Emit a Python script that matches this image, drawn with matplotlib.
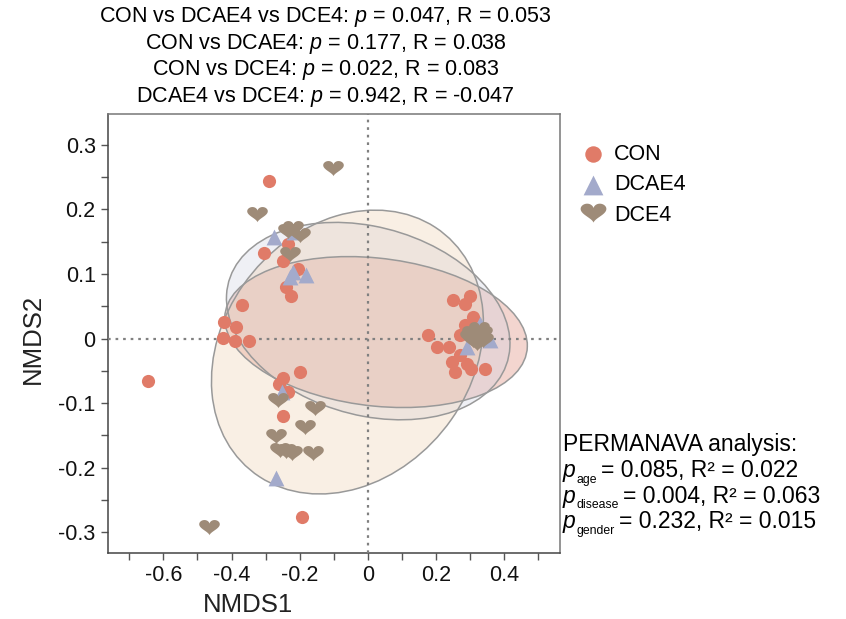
import numpy as np
import matplotlib
matplotlib.use("Agg")
import matplotlib.pyplot as plt
from matplotlib.patches import Ellipse
from matplotlib.path import Path
from matplotlib.ticker import MultipleLocator

plt.rcParams['font.family'] = ['Liberation Sans', 'DejaVu Sans']
plt.rcParams['mathtext.fontset'] = 'custom'
plt.rcParams['mathtext.rm'] = 'Liberation Sans'
plt.rcParams['mathtext.it'] = 'Liberation Sans:italic'

# NMDS scores
con_x = [-0.289, -0.304, -0.233, -0.248, -0.205, -0.240, -0.225, -0.368, -0.421, -0.386,
         -0.425, -0.389, -0.348, -0.249, -0.199, -0.646, -0.260, -0.233, -0.249, -0.194,
         0.249, 0.300, 0.285, 0.310, 0.285, 0.271, 0.176, 0.202, 0.239, 0.271,
         0.248, 0.290, 0.256, 0.302, 0.344, 0.300]
con_y = [0.244, 0.133, 0.146, 0.120, 0.107, 0.080, 0.066, 0.052, 0.025, 0.018,
         0.001, -0.004, -0.004, -0.061, -0.052, -0.066, -0.071, -0.083, -0.120, -0.277,
         0.059, 0.066, 0.053, 0.034, 0.021, 0.005, 0.005, -0.013, -0.013, -0.026,
         -0.036, -0.039, -0.052, -0.047, -0.048, 0.010]

dcae4_x = [-0.274, -0.218, -0.220, -0.182, -0.228, -0.252, -0.269, 0.329, 0.359, 0.290]
dcae4_y = [0.157, 0.165, 0.103, 0.098, 0.095, -0.083, -0.217, 0.023, -0.003, -0.013]

dce4_x = [-0.101, -0.324, -0.233, -0.199, -0.220, -0.228, -0.264, -0.155, -0.184, -0.270,
          -0.257, -0.223, -0.160, -0.240, -0.465, 0.305, 0.334, 0.320, 0.310, 0.339,
          0.300, 0.325]
dce4_y = [0.261, 0.190, 0.164, 0.157, 0.168, 0.128, -0.098, -0.111, -0.140, -0.155,
          -0.176, -0.181, -0.181, -0.178, -0.296, 0.005, 0.005, -0.010, -0.005, -0.005,
          0.000, 0.012]

# ellipse per group: centre, half range in x and y, correlation
groups = ['CON', 'DCAE4', 'DCE4']
ell_cx = [0.024, 0.001, -0.060]
ell_cy = [0.010, 0.027, -0.021]
ell_hx = [0.444, 0.416, 0.399]
ell_hy = [0.117, 0.153, 0.220]
ell_r = [-0.18, -0.23, 0.204]

point_cols = ['#E07B68', '#A3AACB', '#9E8B78']
fill_cols = ['#DA7662', '#CDD0E1', '#EECAA8']

title_lines = [
    r"CON vs DCAE4 vs DCE4: $p$ = 0.047, R = 0.053",
    r"CON vs DCAE4: $p$ = 0.177, R = 0.038",
    r"CON vs DCE4: $p$ = 0.022, R = 0.083",
    r"DCAE4 vs DCE4: $p$ = 0.942, R = -0.047",
]
perm_head = "PERMANAVA analysis:"
perm_terms = ['age', 'disease', 'gender']
perm_rest = ['= 0.085, R\u00b2 = 0.022', '= 0.004, R\u00b2 = 0.063', '= 0.232, R\u00b2 = 0.015']

# heart shaped marker
t = np.linspace(0, 2 * np.pi, 80)
hx = 16 * np.sin(t) ** 3
hy = 13 * np.cos(t) - 5 * np.cos(2 * t) - 2 * np.cos(3 * t) - np.cos(4 * t)
heart = Path(np.column_stack([hx, (hy + 6) * 0.82]))

W, H = 846, 619
fig = plt.figure(figsize=(W / 100, H / 100), dpi=100)
ax = fig.add_axes([0.1271, 0.1061, 0.5349, 0.7097])

for i in range(3):
    cov = np.array([[ell_hx[i] ** 2, ell_r[i] * ell_hx[i] * ell_hy[i]],
                    [ell_r[i] * ell_hx[i] * ell_hy[i], ell_hy[i] ** 2]])
    vals, vecs = np.linalg.eigh(cov)
    ang = np.degrees(np.arctan2(vecs[1, 1], vecs[0, 1]))
    e = Ellipse((ell_cx[i], ell_cy[i]), 2 * np.sqrt(vals[1]), 2 * np.sqrt(vals[0]),
                angle=ang, facecolor=fill_cols[i], alpha=0.3, edgecolor='none', zorder=1)
    ax.add_patch(e)
    e2 = Ellipse((ell_cx[i], ell_cy[i]), 2 * np.sqrt(vals[1]), 2 * np.sqrt(vals[0]),
                 angle=ang, facecolor='none', edgecolor='#999999', lw=1.1, zorder=2)
    ax.add_patch(e2)

ax.axhline(0, color='#808080', ls=(0, (1.2, 2.2)), lw=1.6, zorder=3)
ax.axvline(0, color='#808080', ls=(0, (1.2, 2.2)), lw=1.6, zorder=3)

h1 = ax.scatter(con_x, con_y, s=90, marker='o', color=point_cols[0], lw=0, zorder=4, label='CON')
h2 = ax.scatter(dcae4_x, dcae4_y, s=130, marker='^', color=point_cols[1], lw=0, zorder=5, label='DCAE4')
h3 = ax.scatter(dce4_x, dce4_y, s=220, marker=heart, color=point_cols[2], lw=0, zorder=6, label='DCE4')

ax.set_xlim(-0.764, 0.564)
ax.set_ylim(-0.333, 0.348)
ax.xaxis.set_major_locator(MultipleLocator(0.2))
ax.xaxis.set_minor_locator(MultipleLocator(0.1))
ax.yaxis.set_major_locator(MultipleLocator(0.1))
ax.yaxis.set_minor_locator(MultipleLocator(0.05))
ax.xaxis.set_major_formatter(lambda v, p: '0' if abs(v) < 1e-9 else f'{v:.1f}')
ax.yaxis.set_major_formatter(lambda v, p: '0' if abs(v) < 1e-9 else f'{v:.1f}')
ax.tick_params(which='both', direction='out', length=5, width=1, color='#555555',
               labelsize=15.5, labelcolor='#111111')
for sp in ax.spines.values():
    sp.set_color('#777777')
    sp.set_linewidth(1.1)
ax.spines['left'].set_color('#444444')
ax.spines['bottom'].set_color('#444444')

ax.set_xlabel('NMDS1', fontsize=18.5, color='#222222', va='center')
ax.set_ylabel('NMDS2', fontsize=18.5, color='#222222', va='center')
ax.xaxis.set_label_coords(0.31, -0.117)
ax.yaxis.set_label_coords(-0.165, 0.488)

leg = fig.legend(handles=[h1, h2, h3], loc='upper left', bbox_to_anchor=(0.671, 0.782),
                 frameon=False, fontsize=15.5, handletextpad=0.15, labelspacing=0.45,
                 borderaxespad=0, markerscale=1.25, handlelength=1.6)

for k, line in enumerate(title_lines):
    fig.text(0.385, 1 - (17 + 26.6 * k) / H, line, ha='center', va='center', fontsize=15.5)

# PERMANOVA block, p with small subscript then the rest of the line
renderer = fig.canvas.get_renderer()
x0 = 563
fig.text(x0 / W, 1 - 451.5 / H, perm_head, fontsize=16.5, va='baseline')
for k in range(3):
    base = 477 + 25.7 * k
    tp = fig.text(x0 / W, 1 - base / H, 'p', fontsize=16.5, style='italic', va='baseline')
    bb = tp.get_window_extent(renderer)
    ts = fig.text((bb.x1 + 1) / W, 1 - (base + 5.5) / H, perm_terms[k], fontsize=8.8,
                  va='baseline')
    bb2 = ts.get_window_extent(renderer)
    fig.text((bb2.x1 + 4) / W, 1 - base / H, perm_rest[k], fontsize=16.5, va='baseline')

fig.savefig('out.png', dpi=100)
